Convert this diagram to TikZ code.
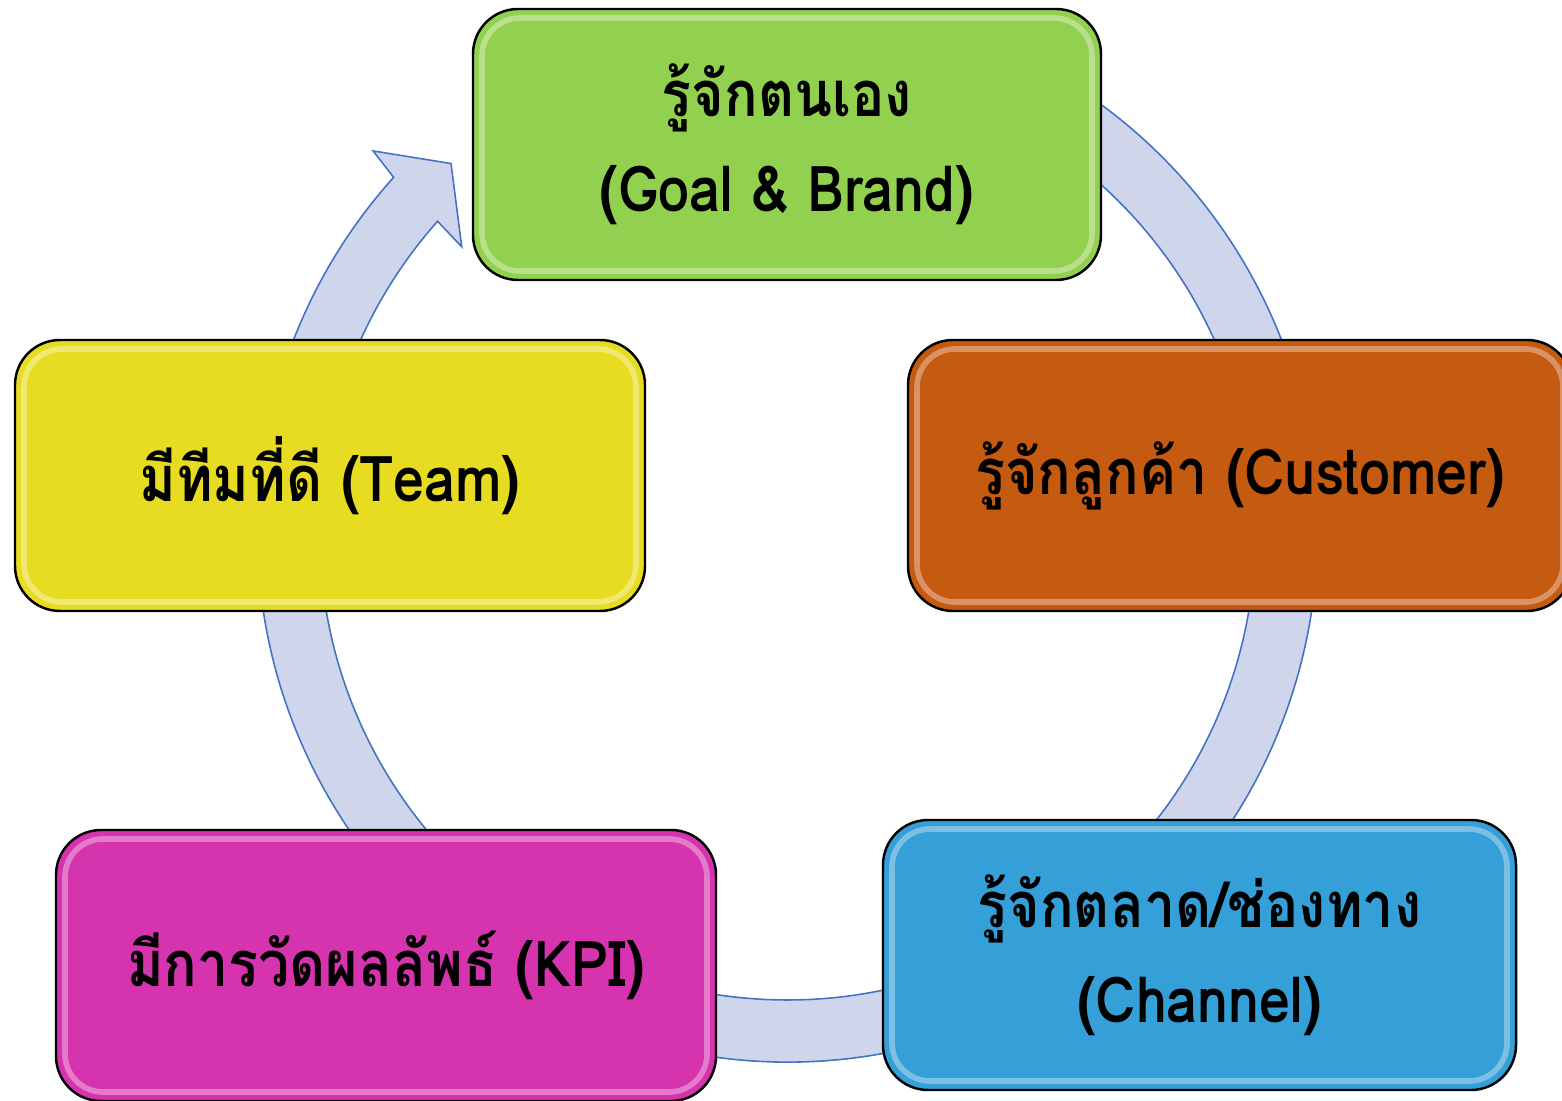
\documentclass[tikz,border=0pt]{standalone}
\usepackage{fontspec}
\usepackage{tikz}
\usetikzlibrary{calc}
\newfontfamily\thaifont[Script=Thai,FakeStretch=0.88]{Loma}
\definecolor{selfgreen}{HTML}{92D050}
\definecolor{custorange}{HTML}{C55A11}
\definecolor{teamyellow}{HTML}{E8DC22}
\definecolor{kpipink}{HTML}{D534AE}
\definecolor{chanblue}{HTML}{359FD7}
\definecolor{ringfill}{HTML}{CFD5EA}
\definecolor{ringedge}{HTML}{4472C4}

\begin{document}
\begin{tikzpicture}[
	stepbox/.style={draw=black, line width=0.7pt, rounded corners=0.45cm,
		minimum height=2.71cm, align=center,
		font=\thaifont\bfseries\fontsize{18}{27}\selectfont,
		path picture={\draw[white, opacity=0.35, line width=1.6pt, rounded corners=0.38cm]
			([shift={(0.09,-0.09)}]path picture bounding box.north west) rectangle
			([shift={(-0.09,0.09)}]path picture bounding box.south east);}},
	ring/.style={fill=ringfill, draw=ringedge, line width=0.45pt}]

	\clip (0,0) rectangle (15.62,11);

	% Ring
	\coordinate (ringc) at (7.875,5.68);
	\begin{scope}[shift={(ringc)}]
		\draw[ring] (75:5.30) arc[start angle=75, end angle=-222, radius=5.30]
			-- (-222.6:5.63) -- (-227.6:4.99) -- (-221.2:4.33) -- (-221.6:4.68)
			arc[start angle=-221.6, end angle=75, radius=4.68] -- cycle;
	\end{scope}

	% Steps
	\node[stepbox, fill=selfgreen, minimum width=6.28cm] (self) at (7.87,9.555)
		{รู้จักตนเอง\\(Goal \& Brand)};
	\node[stepbox, fill=custorange, minimum width=6.64cm] (customer) at (12.40,6.245)
		{รู้จักลูกค้า (Customer)};
	\node[stepbox, fill=chanblue, minimum width=6.33cm, minimum height=2.70cm] (channel) at (11.995,1.45)
		{รู้จักตลาด/ช่องทาง\\(Channel)};
	\node[stepbox, fill=kpipink, minimum width=6.60cm] (kpi) at (3.86,1.345)
		{มีการวัดผลลัพธ์ (KPI)};
	\node[stepbox, fill=teamyellow, minimum width=6.30cm] (team) at (3.30,6.245)
		{มีทีมที่ดี (Team)};
\end{tikzpicture}
\end{document}
